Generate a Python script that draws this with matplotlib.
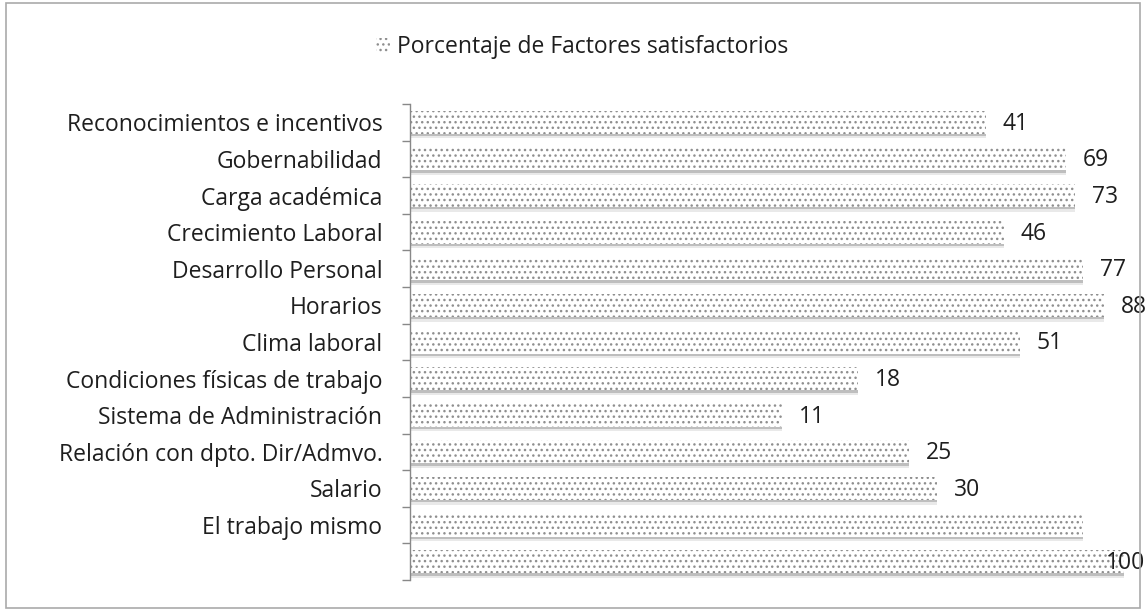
import matplotlib
matplotlib.use("Agg")
import matplotlib.pyplot as plt
from matplotlib.patches import Rectangle, Patch
import numpy as np

plt.rcParams['font.family'] = ['Open Sans', 'DejaVu Sans']
plt.rcParams['hatch.linewidth'] = 1.0
plt.rcParams['hatch.color'] = '#8f8f8f'

categories = ["Reconocimientos e incentivos", "Gobernabilidad", "Carga académica",
              "Crecimiento Laboral", "Desarrollo Personal", "Horarios", "Clima laboral",
              "Condiciones físicas de trabajo", "Sistema de Administración",
              "Relación con dpto. Dir/Admvo.", "Salario", "El trabajo mismo", ""]
values = [41, 69, 73, 46, 77, 88, 51, 18, 11, 25, 30, 77, 100]
value_labels = ["41", "69", "73", "46", "77", "88", "51", "18", "11", "25", "30", "", "100"]
legend_label = "Porcentaje de Factores satisfactorios"

FS = 16.5
TXT = '#1e1e1e'

fig = plt.figure(figsize=(11.46, 6.13), dpi=100)
ax = fig.add_axes([0.3578, 0.0538, 0.623, 0.7765])

pos = np.arange(len(values))
# shadow
ax.barh(pos + 0.12, values, height=0.64, color='#c0c0c0', alpha=0.35, linewidth=0, zorder=1)
ax.barh(pos + 0.06, values, height=0.64, color='#8a8a8a', alpha=0.45, linewidth=0, zorder=1)
bars = ax.barh(pos, values, height=0.63, color='white', edgecolor='#8f8f8f',
               hatch='...', linewidth=0, zorder=2)

ax.set_xscale('log')
ax.set_xlim(1, 100)
ax.set_ylim(len(values) - 0.5, -0.5)

for i, (v, lab) in enumerate(zip(values, value_labels)):
    if not lab:
        continue
    if v >= 100:
        ax.annotate(lab, (v, i), xytext=(1, -1), textcoords='offset points',
                    ha='center', va='center', fontsize=FS, color=TXT,
                    annotation_clip=False, zorder=3)
    else:
        ax.annotate(lab, (v, i), xytext=(12, -1), textcoords='offset points',
                    ha='left', va='center', fontsize=FS, color=TXT, zorder=3)

ax.set_yticks(pos[:-1])
ax.set_yticklabels(categories[:-1], fontsize=FS, color=TXT)
ax.tick_params(axis='y', which='major', length=0, pad=20)
ax.set_xticks([])
ax.xaxis.set_minor_locator(matplotlib.ticker.NullLocator())
ax.set_yticks(np.arange(len(values) + 1) - 0.5, minor=True)
ax.tick_params(axis='y', which='minor', length=6, width=1, color='#888888', direction='out')
for s in ['top', 'right', 'bottom']:
    ax.spines[s].set_visible(False)
ax.spines['left'].set_color('#888888')
ax.spines['left'].set_linewidth(1)

handle = Patch(facecolor='white', edgecolor='#8f8f8f', hatch='...', linewidth=0)
fig.legend([handle], [legend_label], loc='center', bbox_to_anchor=(0.508, 0.923),
           frameon=False, fontsize=FS, handlelength=0.6, handleheight=0.6,
           handletextpad=0.3, labelcolor=TXT)

fig.patches.append(Rectangle((0.005, 0.008), 0.99, 0.987, transform=fig.transFigure,
                             fill=False, edgecolor='#aaaaaa', linewidth=1.2))

fig.savefig('out.png', dpi=100)
